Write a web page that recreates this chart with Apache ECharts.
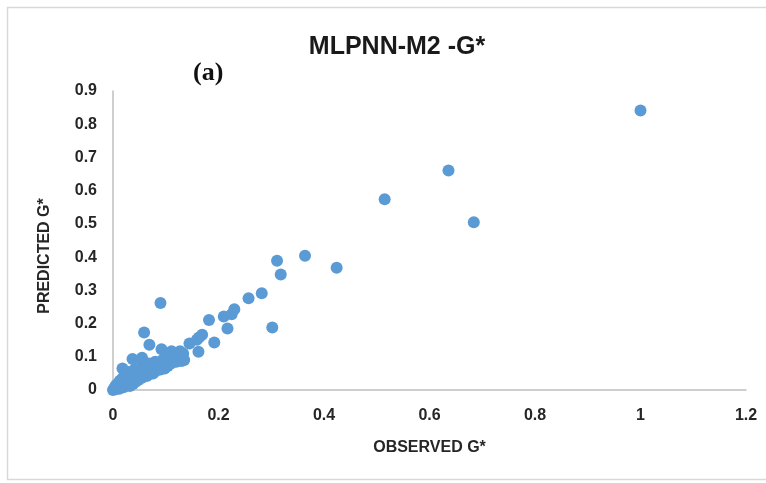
<!DOCTYPE html>
<html>
<head>
<meta charset="utf-8">
<script src="https://cdn.jsdelivr.net/npm/echarts@6/dist/echarts.min.js"></script>
<style>
html,body{margin:0;padding:0;background:#fff;}
#chart{width:766px;height:483px;}
</style>
</head>
<body>
<div id="chart"></div>
<script>
// Observed G* values
var observed = [
  0, 0.002, 0.004, 0.005, 0.006, 0.008, 0.01, 0.01, 0.012, 0.013,
  0.015, 0.016, 0.018, 0.02, 0.02, 0.022, 0.024, 0.025, 0.027, 0.028,
  0.03, 0.032, 0.033, 0.035, 0.036, 0.038, 0.04, 0.041, 0.043, 0.045,
  0.046, 0.048, 0.05, 0.052, 0.054, 0.055, 0.057, 0.06, 0.062, 0.064,
  0.066, 0.068, 0.07, 0.072, 0.074, 0.076, 0.078, 0.08, 0.082, 0.085,
  0.087, 0.09, 0.092, 0.094, 0.096, 0.098, 0.1, 0.102, 0.104, 0.106,
  0.108, 0.11, 0.113, 0.115, 0.118, 0.12, 0.122, 0.125, 0.128, 0.13,
  0.133, 0.135,
  0.018, 0.037, 0.055, 0.059, 0.069, 0.09, 0.092, 0.111, 0.127, 0.13,
  0.145, 0.159, 0.163, 0.169, 0.162, 0.182, 0.192, 0.21, 0.217, 0.225,
  0.23, 0.257, 0.282, 0.302, 0.311, 0.318, 0.364, 0.424, 0.515, 0.636,
  0.684, 1.0
];
// Predicted G* values
var predicted = [
  0, 0.004, 0.01, 0.002, 0.015, 0.006, 0.012, 0.02, 0.004, 0.028,
  0.01, 0.018, 0.035, 0.008, 0.024, 0.045, 0.015, 0.03, 0.055, 0.02,
  0.038, 0.012, 0.026, 0.05, 0.03, 0.018, 0.04, 0.062, 0.025, 0.035,
  0.05, 0.03, 0.045, 0.06, 0.036, 0.075, 0.04, 0.05, 0.065, 0.042,
  0.055, 0.08, 0.048, 0.06, 0.07, 0.05, 0.062, 0.085, 0.058, 0.068,
  0.078, 0.062, 0.07, 0.09, 0.075, 0.065, 0.08, 0.1, 0.072, 0.088,
  0.095, 0.08, 0.105, 0.09, 0.1, 0.085, 0.11, 0.095, 0.105, 0.1,
  0.11, 0.09,
  0.065, 0.093, 0.097, 0.173, 0.136, 0.262, 0.123, 0.117, 0.117, 0.087,
  0.14, 0.151, 0.158, 0.166, 0.115, 0.211, 0.143, 0.221, 0.185, 0.228,
  0.243, 0.276, 0.291, 0.188, 0.389, 0.348, 0.404, 0.368, 0.574, 0.661,
  0.505, 0.841
];
var xTickLabels = ['0', '0.2', '0.4', '0.6', '0.8', '1', '1.2'];
var yTickLabels = ['0', '0.1', '0.2', '0.3', '0.4', '0.5', '0.6', '0.7', '0.8', '0.9'];

var points = observed.map(function (v, i) { return [v, predicted[i]]; });

var chart = echarts.init(document.getElementById('chart'));
var labelFont = 'Liberation Sans, Arial, sans-serif';
chart.setOption({
  backgroundColor: '#ffffff',
  animation: false,
  title: {
    text: 'MLPNN-M2 -G*',
    left: 392,
    top: 30,
    textAlign: 'center',
    textStyle: { fontFamily: labelFont, fontWeight: 'bold', fontSize: 25, color: '#1a1a1a' }
  },
  graphic: [
    {
      type: 'rect', silent: true, z: -1,
      shape: { x: 7.5, y: 7.5, width: 780, height: 472 },
      style: { fill: 'none', stroke: '#d9d9d9', lineWidth: 1.5 }
    },
    {
      type: 'text', left: 193, top: 60,
      style: { text: '(a)', font: 'bold 26px "Liberation Serif", "Times New Roman", serif', fill: '#111' }
    },
    {
      type: 'text', x: 45, y: 256, rotation: Math.PI / 2,
      style: {
        text: 'PREDICTED G*', font: 'bold 16px "Liberation Sans", Arial, sans-serif',
        fill: '#262626', align: 'center', verticalAlign: 'middle'
      }
    }
  ],
  grid: { left: 113, right: 20, top: 91, bottom: 93, containLabel: false },
  xAxis: {
    type: 'value', min: 0, max: 1.2, interval: 0.2,
    name: 'OBSERVED G*', nameLocation: 'middle', nameGap: 50,
    nameTextStyle: { fontFamily: labelFont, fontWeight: 'bold', fontSize: 16, color: '#262626' },
    axisLine: { show: true, lineStyle: { color: '#bfbfbf', width: 1.5 } },
    axisTick: { show: false },
    splitLine: { show: false },
    axisLabel: {
      margin: 18, fontFamily: labelFont, fontWeight: 'bold', fontSize: 16, color: '#262626',
      formatter: function (v) { return xTickLabels[Math.round(v / 0.2)]; }
    }
  },
  yAxis: {
    type: 'value', min: 0, max: 0.9, interval: 0.1,
    axisLine: { show: true, lineStyle: { color: '#bfbfbf', width: 1.5 } },
    axisTick: { show: false },
    splitLine: { show: false },
    axisLabel: {
      margin: 16, fontFamily: labelFont, fontWeight: 'bold', fontSize: 16, color: '#262626',
      formatter: function (v) { return yTickLabels[Math.round(v / 0.1)]; }
    }
  },
  series: [{
    type: 'scatter',
    data: points,
    symbol: 'circle',
    symbolSize: 12,
    itemStyle: { color: '#5B9BD5', opacity: 1 }
  }]
});
</script>
</body>
</html>
